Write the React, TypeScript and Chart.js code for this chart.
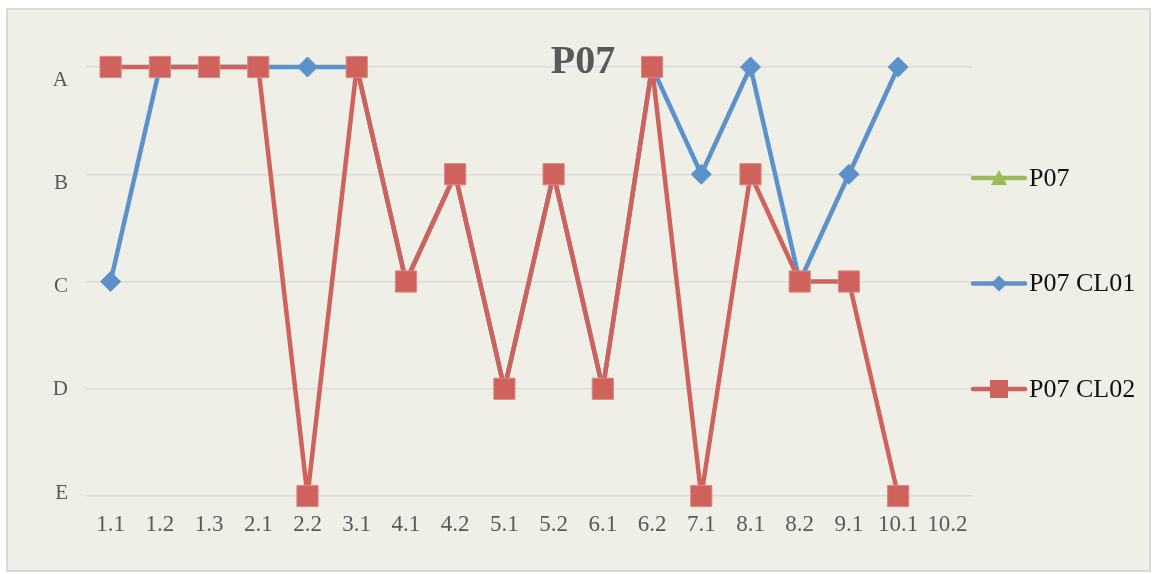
import React, { useEffect, useRef } from 'react';
import { Chart, registerables } from 'chart.js';

Chart.register(...registerables);

const categories = ['1.1', '1.2', '1.3', '2.1', '2.2', '3.1', '4.1', '4.2', '5.1', '5.2', '6.1', '6.2', '7.1', '8.1', '8.2', '9.1', '10.1', '10.2'];
// grade scale, bottom (1) to top (5)
const grades = ['E', 'D', 'C', 'B', 'A'];
const seriesNames = ['P07', 'P07 CL01', 'P07 CL02'];
const p07: (string | null)[] = [null, null, null, null, null, null, null, null, null, null, null, null, null, null, null, null, null, null];
const p07CL01: (string | null)[] = ['C', 'A', 'A', 'A', 'A', 'A', 'C', 'B', 'D', 'B', 'D', 'A', 'B', 'A', 'C', 'B', 'A', null];
const p07CL02: (string | null)[] = ['A', 'A', 'A', 'A', 'E', 'A', 'C', 'B', 'D', 'B', 'D', 'A', 'E', 'B', 'C', 'C', 'E', null];
const chartTitle = 'P07';

const GREEN = '#9bbb59';
const BLUE = '#5b92cb';
const RED = '#cf635b';
const FONT = '"Liberation Serif", "Times New Roman", serif';

const toNum = (arr: (string | null)[]) => arr.map((g) => (g === null ? null : grades.indexOf(g) + 1));

const drawMarker = (ctx: CanvasRenderingContext2D, style: string, x: number, y: number, color: string) => {
  ctx.fillStyle = color;
  ctx.beginPath();
  if (style === 'triangle') {
    ctx.moveTo(x, y - 8);
    ctx.lineTo(x + 8, y + 7);
    ctx.lineTo(x - 8, y + 7);
    ctx.closePath();
  } else if (style === 'rectRot') {
    ctx.moveTo(x, y - 8);
    ctx.lineTo(x + 8, y);
    ctx.lineTo(x, y + 8);
    ctx.lineTo(x - 8, y);
    ctx.closePath();
  } else {
    ctx.rect(x - 9, y - 9, 18, 18);
  }
  ctx.fill();
};

const decorPlugin = {
  id: 'decor',
  beforeDraw(chart: any) {
    const { ctx, width, height } = chart;
    ctx.save();
    ctx.fillStyle = '#ffffff';
    ctx.fillRect(0, 0, width, height);
    ctx.fillStyle = '#f0efe7';
    ctx.fillRect(7, 9, width - 11, height - 12);
    ctx.strokeStyle = '#d9d9d9';
    ctx.lineWidth = 2;
    ctx.strokeRect(7, 9, width - 11, height - 12);
    ctx.restore();
  },
  afterDraw(chart: any) {
    const { ctx, chartArea } = chart;
    ctx.save();
    // title
    ctx.font = `bold 40px ${FONT}`;
    ctx.fillStyle = '#595959';
    ctx.textAlign = 'center';
    ctx.textBaseline = 'alphabetic';
    ctx.fillText(chartTitle, chart.width / 2 + 6, 73);
    // legend
    const mid = (chartArea.top + chartArea.bottom) / 2 + 2;
    const x0 = chartArea.right - 1;
    chart.data.datasets.forEach((ds: any, i: number) => {
      const y = mid + (i - 1) * 105.5;
      ctx.strokeStyle = ds.borderColor;
      ctx.lineWidth = 4.5;
      ctx.lineCap = 'round';
      ctx.beginPath();
      ctx.moveTo(x0 + 2, y);
      ctx.lineTo(x0 + 54, y);
      ctx.stroke();
      drawMarker(ctx, ds.pointStyle, x0 + 28, y, ds.backgroundColor);
      ctx.font = `26px ${FONT}`;
      ctx.fillStyle = '#111111';
      ctx.textAlign = 'left';
      ctx.textBaseline = 'middle';
      ctx.fillText(ds.label, x0 + 58, y + 1);
    });
    ctx.restore();
  },
};

export default function App() {
  const ref = useRef<HTMLCanvasElement | null>(null);

  useEffect(() => {
    document.body.style.margin = '0';
    const canvas = ref.current;
    if (!canvas) return;
    const common = { borderWidth: 4.5, borderJoinStyle: 'round', clip: false };
    const chart = new Chart(canvas, {
      type: 'line',
      data: {
        labels: categories,
        datasets: [
          {
            ...common,
            label: seriesNames[0],
            data: toNum(p07),
            borderColor: GREEN,
            backgroundColor: GREEN,
            pointStyle: 'triangle',
            pointRadius: 10,
            order: 2,
          },
          {
            ...common,
            label: seriesNames[1],
            data: toNum(p07CL01),
            borderColor: BLUE,
            backgroundColor: BLUE,
            pointBorderColor: BLUE,
            pointStyle: 'rectRot',
            pointRadius: 10,
            pointBorderWidth: 1,
            order: 1,
          },
          {
            ...common,
            label: seriesNames[2],
            data: toNum(p07CL02),
            borderColor: RED,
            backgroundColor: RED,
            pointBorderColor: '#d98a84',
            pointStyle: 'rect',
            pointRadius: 15,
            pointBorderWidth: 1,
            order: 0,
          },
        ] as any,
      },
      options: {
        animation: false,
        responsive: false,
        devicePixelRatio: 1,
        layout: { padding: { left: 0, top: 67, right: 182, bottom: 0 } },
        plugins: {
          legend: { display: false },
          title: { display: false },
          tooltip: { enabled: false },
        },
        scales: {
          x: {
            type: 'category',
            offset: true,
            grid: { display: false, drawTicks: false },
            border: { display: false },
            ticks: {
              color: '#595959',
              font: { family: FONT, size: 23 },
              padding: 15,
              maxRotation: 0,
              autoSkip: false,
            },
            afterFit: (s: any) => {
              s.height = 78;
            },
          },
          y: {
            type: 'linear',
            position: 'left',
            min: 1,
            max: 5,
            grid: { color: '#dcdcdc', lineWidth: 1.5, drawTicks: false },
            border: { display: false },
            ticks: { display: false, stepSize: 1 },
            afterFit: (s: any) => {
              s.width = 0;
            },
          },
          // grade labels axis (Excel places these slightly compressed relative to the gridlines)
          yLabels: {
            type: 'linear',
            position: 'left',
            min: 0.971,
            max: 5.126,
            grid: { display: false, drawTicks: false },
            border: { display: false },
            ticks: {
              stepSize: 1,
              includeBounds: false,
              color: '#595959',
              font: { family: FONT, size: 21 },
              padding: 18,
              callback: (v: any) => (Number.isInteger(Number(v)) ? grades[Number(v) - 1] ?? '' : ''),
            },
            afterFit: (s: any) => {
              s.width = 86;
            },
          },
        },
      } as any,
      plugins: [decorPlugin],
    });
    return () => chart.destroy();
  }, []);

  return (
    <div style={{ width: 1154, height: 574 }}>
      <canvas ref={ref} width={1154} height={574} style={{ display: 'block' }} />
    </div>
  );
}
